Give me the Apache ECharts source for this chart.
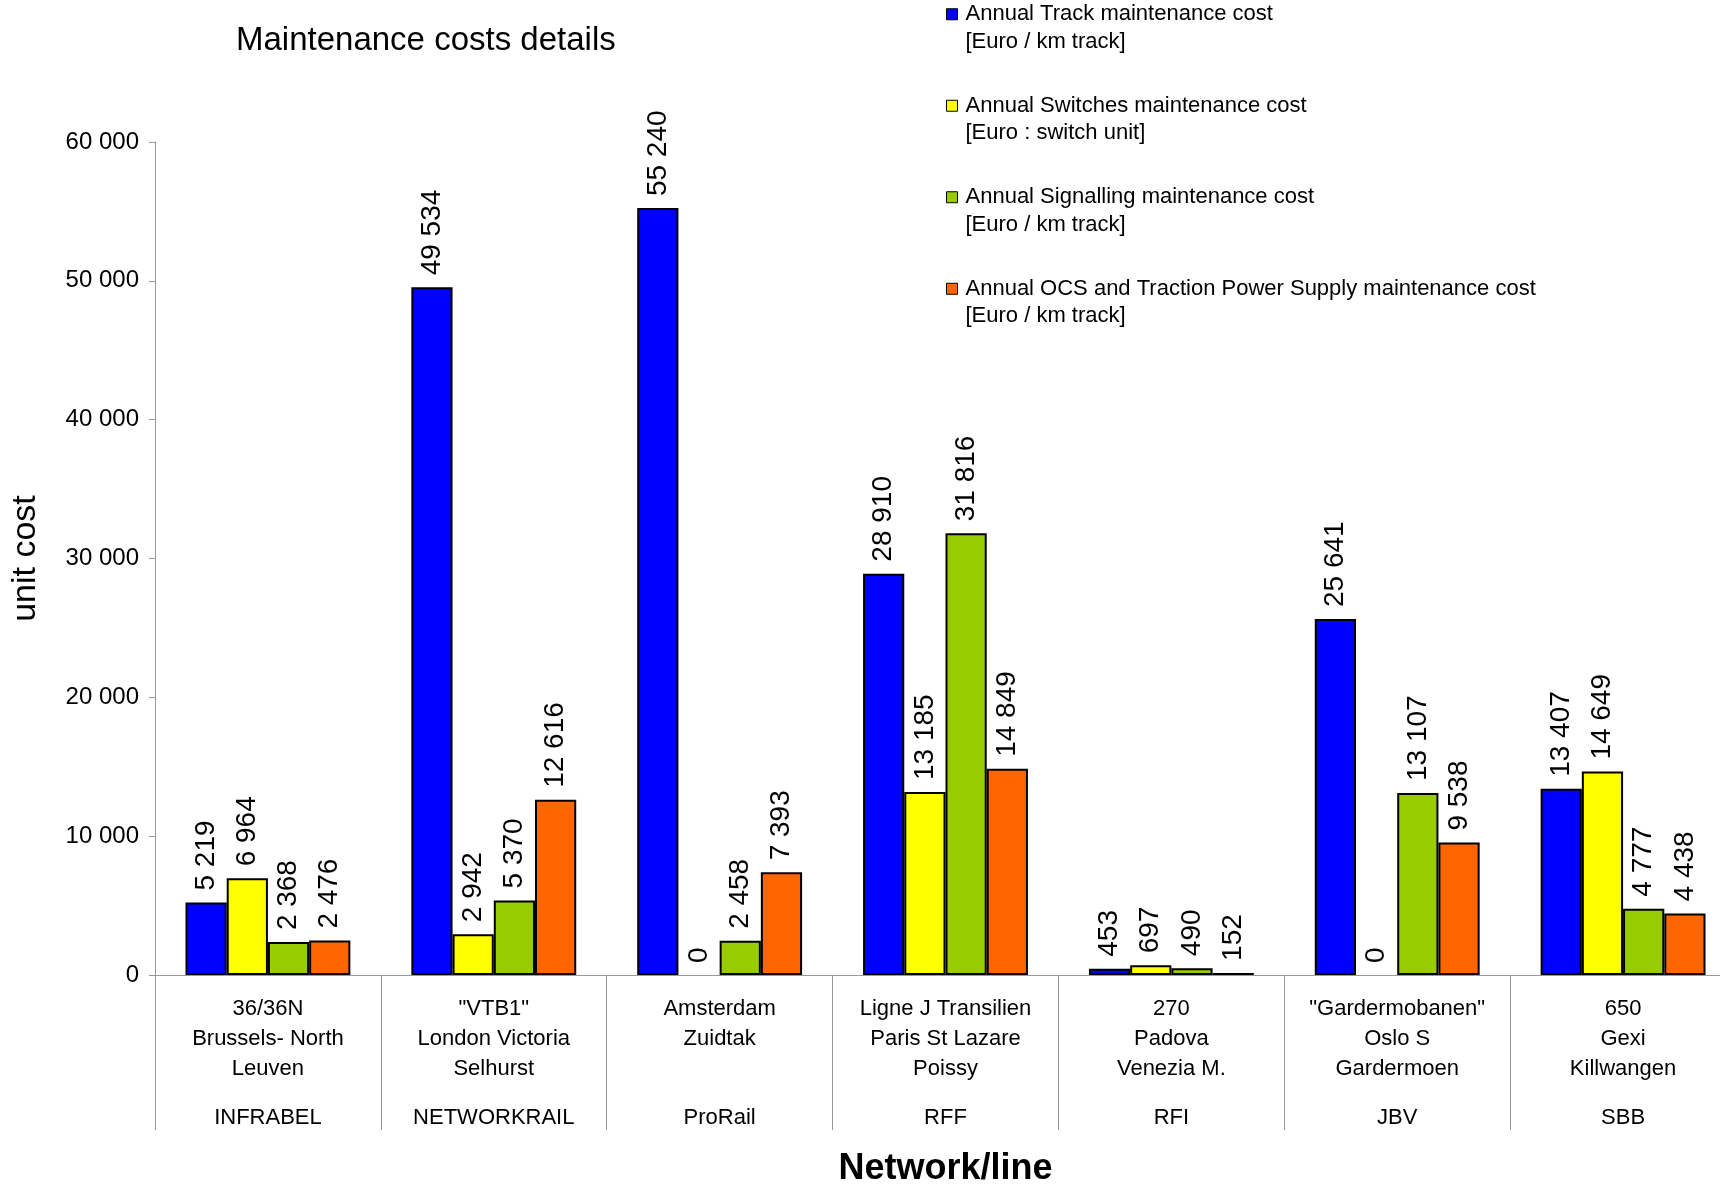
<!DOCTYPE html>
<html>
<head>
<meta charset="utf-8">
<script src="https://cdn.jsdelivr.net/npm/echarts@6/dist/echarts.min.js"></script>
<style>
html,body{margin:0;padding:0;background:#fff;}
#chart{width:1720px;height:1185px;}
</style>
</head>
<body>
<div id="chart"></div>
<script>
// ---- data ----
var lineNames = [
  ['36/36N', 'Brussels- North', 'Leuven'],
  ['"VTB1"', 'London Victoria', 'Selhurst'],
  ['Amsterdam', 'Zuidtak', ' '],
  ['Ligne J Transilien', 'Paris St Lazare', 'Poissy'],
  ['270', 'Padova', 'Venezia M.'],
  ['"Gardermobanen"', 'Oslo S', 'Gardermoen'],
  ['650', 'Gexi', 'Killwangen']
];
var networks = ['INFRABEL', 'NETWORKRAIL', 'ProRail', 'RFF', 'RFI', 'JBV', 'SBB'];

var seriesNames = [
  'Annual Track maintenance cost',
  'Annual Switches maintenance cost',
  'Annual Signalling maintenance cost',
  'Annual OCS and Traction Power Supply maintenance cost'
];
var seriesUnits = ['[Euro / km track]', '[Euro : switch unit]', '[Euro / km track]', '[Euro / km track]'];

var trackCost      = [5219, 49534, 55240, 28910, 453, 25641, 13407];
var switchesCost   = [6964, 2942, 0, 13185, 697, 0, 14649];
var signallingCost = [2368, 5370, 2458, 31816, 490, 13107, 4777];
var ocsCost        = [2476, 12616, 7393, 14849, 152, 9538, 4438];

var yTicks = [0, 10000, 20000, 30000, 40000, 50000, 60000];

var seriesValues = [trackCost, switchesCost, signallingCost, ocsCost];
var seriesColors = ['#0000FF', '#FFFF00', '#99CC00', '#FF6600'];

// ---- helpers ----
var FONT = 'Liberation Sans, Arial, sans-serif';
function fmt(v) {
  return String(v).replace(/\B(?=(\d{3})+(?!\d))/g, ' ');
}

var chart = echarts.init(document.getElementById('chart'), null, {renderer: 'canvas'});

var series = seriesValues.map(function (vals, i) {
  return {
    name: seriesNames[i],
    type: 'bar',
    data: vals.map(function (v) {
      return v === 0 ? {value: v, itemStyle: {borderWidth: 0}} : v;
    }),
    barGap: '0%',
    barCategoryGap: '27%',
    itemStyle: {color: seriesColors[i], borderColor: '#000', borderWidth: 2},
    label: {
      show: true,
      position: 'top',
      rotate: 90,
      align: 'left',
      verticalAlign: 'middle',
      distance: 12,
      fontFamily: FONT,
      fontSize: 28,
      color: '#000',
      formatter: function (p) { return fmt(p.value); }
    },
    emphasis: {disabled: true},
    animation: false
  };
});

var L = 27.5;
var option = {
  animation: false,
  backgroundColor: '#fff',
  title: {
    text: 'Maintenance costs details',
    left: 231,
    top: 19,
    textStyle: {fontFamily: FONT, fontSize: 33, fontWeight: 'normal', color: '#000'}
  },
  legend: {
    orient: 'vertical',
    left: 946,
    top: -27,
    padding: 0,
    itemGap: 9,
    itemWidth: 11,
    itemHeight: 11,
    icon: 'rect',
    itemStyle: {borderColor: '#000', borderWidth: 1},
    data: seriesNames,
    formatter: function (name) {
      var i = seriesNames.indexOf(name);
      return ' \n' + name + '\n' + seriesUnits[i];
    },
    textStyle: {
      fontFamily: FONT, fontSize: 22, color: '#000',
      lineHeight: L, padding: [0, 0, 0, 3]
    }
  },
  grid: {left: 155, width: 1581, top: 142, bottom: 210, containLabel: false, outerBoundsMode: 'none'},
  xAxis: {
    type: 'category',
    data: networks,
    name: 'Network/line',
    nameLocation: 'middle',
    nameGap: 176,
    nameTextStyle: {fontFamily: FONT, fontSize: 36, fontWeight: 'bold', color: '#000'},
    axisLine: {lineStyle: {color: '#999', width: 1}},
    axisTick: {show: true, interval: 0, length: 155, lineStyle: {color: '#999', width: 1}},
    axisLabel: {
      interval: 0,
      margin: 19,
      formatter: function (v, idx) {
        var ln = lineNames[idx];
        return '{a|' + ln[0] + '}\n{a|' + ln[1] + '}\n{a|' + ln[2] + '}\n{b|' + networks[idx] + '}';
      },
      rich: {
        a: {fontFamily: FONT, fontSize: 22, color: '#000', lineHeight: 30},
        b: {fontFamily: FONT, fontSize: 22, color: '#000', lineHeight: 68}
      }
    },
    splitLine: {show: false}
  },
  yAxis: {
    type: 'value',
    min: yTicks[0],
    max: yTicks[yTicks.length - 1],
    interval: yTicks[1] - yTicks[0],
    name: 'unit cost',
    nameLocation: 'middle',
    nameRotate: 90,
    nameGap: 112,
    nameTextStyle: {fontFamily: FONT, fontSize: 34, color: '#000'},
    axisLine: {show: true, lineStyle: {color: '#999', width: 1}},
    axisTick: {show: true, length: 6, lineStyle: {color: '#999'}},
    axisLabel: {
      margin: 16,
      fontFamily: FONT, fontSize: 24, color: '#000',
      formatter: function (v) { return fmt(v); }
    },
    splitLine: {show: false}
  },
  series: series
};
chart.setOption(option);
</script>
</body>
</html>
